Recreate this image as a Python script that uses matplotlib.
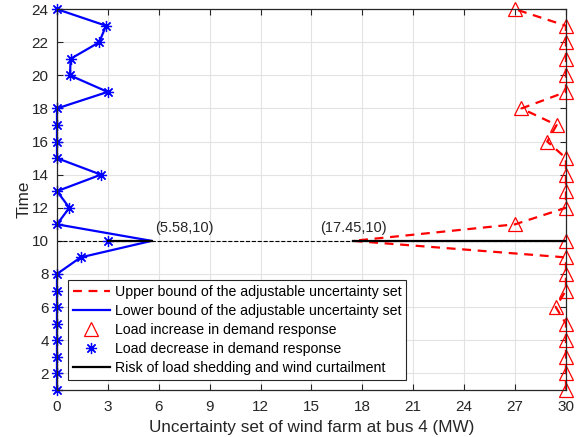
import matplotlib.pyplot as plt
import numpy as np

plt.rcParams['font.family'] = ['Liberation Sans', 'DejaVu Sans']

# Time periods
hours = list(range(1, 25))

# Upper bound of the adjustable uncertainty set (MW), hour 1..24
upper = [30, 30, 30, 30, 30, 29.4, 30, 30, 30, 17.45, 27, 30,
         30, 30, 30, 28.9, 29.45, 27.38, 30, 30, 30, 30, 30, 27]
# Lower bound of the adjustable uncertainty set (MW)
lower = [0, 0, 0, 0, 0, 0, 0, 0, 1.39, 5.58, 0, 0.73,
         0, 2.59, 0, 0, 0, 0, 2.99, 0.77, 0.8, 2.49, 2.89, 0]
# Load increase / decrease in demand response
increase = [30, 30, 30, 30, 30, 29.4, 30, 30, 30, 30, 27, 30,
            30, 30, 30, 28.9, 29.45, 27.38, 30, 30, 30, 30, 30, 27]
decrease = [0, 0, 0, 0, 0, 0, 0, 0, 1.39, 3, 0, 0.73,
            0, 2.59, 0, 0, 0, 0, 2.99, 0.77, 0.8, 2.49, 2.89, 0]

# Risk segments at hour 10
risk_hour = 10
risk_low = [3, 5.58]
risk_high = [17.45, 30]

dark = '#262626'

fig = plt.figure(figsize=(5.85, 4.37), dpi=100)
ax = fig.add_axes([0.0974, 0.108, 0.87, 0.871])

# thin dashed reference line at hour 10
ax.plot([0, 30], [risk_hour, risk_hour], color='k', linestyle='--', linewidth=0.8)

ax.plot(upper, hours, color='r', linestyle='--', linewidth=1.6, dashes=(4, 3),
        label='Upper bound of the adjustable uncertainty set', clip_on=False)
ax.plot(lower, hours, color='b', linewidth=1.6,
        label='Lower bound of the adjustable uncertainty set', clip_on=False)
ax.plot(increase, hours, linestyle='none', marker='^', markersize=10,
        markerfacecolor='none', markeredgecolor='r', markeredgewidth=0.9,
        label='Load increase in demand response', clip_on=False)
ax.plot(decrease, hours, linestyle='none', marker=(8, 2, 0), markersize=8,
        color='b', markeredgewidth=0.9,
        label='Load decrease in demand response', clip_on=False)
ax.plot(risk_low, [risk_hour, risk_hour], color='k', linewidth=1.6,
        label='Risk of load shedding and wind curtailment')
ax.plot(risk_high, [risk_hour, risk_hour], color='k', linewidth=1.6)

ax.text(5.78, 10.55, '(5.58,10)', fontsize=10.5, color=dark)
ax.text(15.5, 10.55, '(17.45,10)', fontsize=10.5, color=dark)

ax.set_xlim(0, 30)
ax.set_ylim(1, 24)
ax.set_xticks(np.arange(0, 31, 3))
ax.set_yticks(np.arange(2, 25, 2))
ax.grid(True, color='#e3e3e3', linewidth=0.8)
ax.set_axisbelow(True)
ax.tick_params(direction='in', top=True, right=True, labelsize=11,
               colors=dark, length=4)
ax.tick_params(axis='x', pad=7)
ax.tick_params(axis='y', pad=6)
for s in ax.spines.values():
    s.set_color(dark)
    s.set_linewidth(0.9)

ax.set_xlabel('Uncertainty set of wind farm at bus 4 (MW)', fontsize=12.3,
              color=dark, labelpad=5)
ax.set_ylabel('Time', fontsize=12.3, color=dark, labelpad=0)

leg = ax.legend(loc='lower left', bbox_to_anchor=(0.0216, 0.026), fontsize=10.2,
                frameon=True, fancybox=False, edgecolor=dark, framealpha=1,
                handlelength=2.6, handletextpad=0.35, borderpad=0.35,
                labelspacing=0.35, borderaxespad=0)
leg.get_frame().set_linewidth(0.8)

plt.savefig('out.png', dpi=100)
